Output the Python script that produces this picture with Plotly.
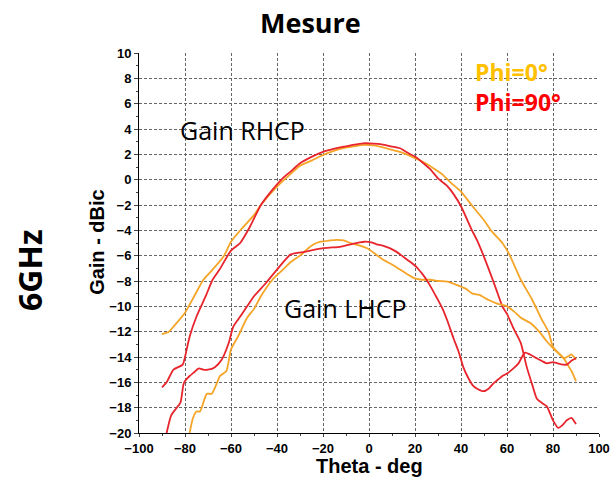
import plotly.graph_objects as go

# RHCP, phi = 0 deg (orange)
rhcp0_theta = [-90, -87, -85, -80, -76, -72, -68, -63, -60, -55, -50, -47, -40, -35, -30, -25,
               -20, -15, -11, -6, -2, 2, 6, 10, 15, 20, 25, 28, 32, 35, 40, 45, 50, 53, 58, 61,
               66, 71, 75, 78, 80, 83, 85, 87, 88, 90]
rhcp0_gain = [-12.2, -12.0, -11.6, -10.5, -9.2, -7.9, -7.1, -6.0, -4.9, -3.8, -2.8, -2.0, -0.55,
              0.3, 1.1, 1.5, 1.95, 2.3, 2.5, 2.65, 2.75, 2.7, 2.55, 2.35, 2.1, 1.7, 1.25, 0.9,
              0.4, -0.15, -0.95, -2.1, -3.2, -4.0, -5.0, -5.9, -7.9, -9.5, -11.0, -12.0, -13.2,
              -13.8, -14.2, -14.8, -15.1, -15.9]

# RHCP, phi = 90 deg (red)
rhcp90_theta = [-90, -88, -85, -81, -80, -78, -75, -71, -68, -65, -60, -56, -52, -47, -42, -37,
                -34, -30, -25, -20, -15, -11, -7, -2.5, 2, 5, 9, 13.5, 17, 20, 23, 26.5, 30, 34,
                37, 40, 44.5, 47, 50, 55, 58, 60, 63, 66, 68.6, 71, 73, 75, 77.3, 80, 82.3, 84,
                86, 88, 90]
rhcp90_gain = [-16.4, -16.0, -15.0, -14.6, -14.0, -12.4, -10.8, -9.2, -7.9, -7.1, -5.6, -5.0,
               -3.8, -2.0, -0.8, 0.2, 0.65, 1.3, 1.8, 2.2, 2.45, 2.6, 2.75, 2.87, 2.85, 2.8,
               2.65, 2.48, 2.1, 1.82, 1.4, 0.85, 0.1, -0.5, -1.2, -2.1, -3.9, -4.8, -6.1, -8.5,
               -10.0, -10.6, -11.8, -12.9, -14.8, -16.2, -17.3, -17.6, -17.9, -19.0, -19.6,
               -19.4, -19.0, -18.8, -19.3]

# LHCP, phi = 0 deg (orange)
lhcp0_theta = [-78, -76.5, -75, -73.5, -71.5, -70.5, -68.4, -66, -64.8, -62, -60, -57, -53, -50,
               -47, -42, -38, -34, -30, -27, -24, -21, -17, -14, -11, -8, -4, -1, 3, 6, 10, 13.5,
               17, 20, 23, 26.5, 30, 34, 38, 42, 45, 48, 52, 56, 60, 63, 66, 70, 74, 77, 80, 83,
               85, 87, 88, 90]
lhcp0_gain = [-20, -18.8, -18.3, -18.3, -17.3, -16.9, -16.9, -16.0, -15.5, -15.1, -13.4, -12.4,
              -10.9, -10.2, -9.2, -7.9, -7.2, -6.5, -6.0, -5.5, -5.1, -4.9, -4.8, -4.75, -4.8,
              -5.0, -5.2, -5.4, -5.9, -6.3, -6.7, -7.1, -7.5, -7.8, -7.9, -7.9, -8.0, -8.05,
              -8.3, -8.6, -9.0, -9.1, -9.5, -9.8, -10.0, -10.4, -10.9, -11.3, -12.0, -12.7,
              -13.3, -13.8, -14.1, -13.9, -13.8, -14.2]

# LHCP, phi = 90 deg (red)
lhcp90_theta = [-88, -86, -84, -82, -80.7, -80, -78, -76, -74, -72, -70, -67, -64, -61, -59, -56,
                -53, -50, -45, -40, -34, -28, -24, -20, -16, -12.6, -8, -4, -2, 1, 3.3, 6, 9, 12,
                15, 18, 20.7, 23, 25, 27, 29.4, 32, 34, 36.7, 39, 41, 43, 45.4, 47, 49.7, 52, 54,
                56, 58, 60, 62.8, 65, 67.8, 70, 72.9, 75, 77.3, 80, 82, 84.5, 86, 88, 90]
lhcp90_gain = [-20, -18.6, -18.1, -17.6, -16.2, -15.9, -15.5, -15.2, -14.9, -15.0, -15.0, -14.8,
               -14.2, -12.9, -11.6, -10.8, -10.0, -9.2, -8.2, -7.1, -5.9, -5.7, -5.55, -5.4,
               -5.35, -5.3, -5.1, -4.95, -4.9, -4.95, -5.1, -5.2, -5.4, -5.7, -6.1, -6.5, -6.9,
               -7.4, -7.9, -8.5, -9.3, -10.2, -11.1, -12.5, -13.6, -14.8, -15.6, -16.3, -16.5,
               -16.7, -16.5, -16.1, -15.8, -15.5, -15.3, -14.9, -14.5, -13.65, -13.8, -14.1,
               -14.3, -14.5, -14.4, -14.5, -14.6, -14.6, -14.3, -14.1]

x_ticks = [-100, -80, -60, -40, -20, 0, 20, 40, 60, 80, 100]
y_ticks = [10, 8, 6, 4, 2, 0, -2, -4, -6, -8, -10, -12, -14, -16, -18, -20]

orange = '#F5A426'
red = '#E8242C'

fig = go.Figure()
for xs, ys, col in [(rhcp0_theta, rhcp0_gain, orange), (rhcp90_theta, rhcp90_gain, red),
                    (lhcp0_theta, lhcp0_gain, orange), (lhcp90_theta, lhcp90_gain, red)]:
    fig.add_trace(go.Scatter(x=xs, y=ys, mode='lines', line=dict(color=col, width=1.8, shape='spline', smoothing=0.6),
                             showlegend=False, hoverinfo='skip'))

tick_font = dict(family='Liberation Sans', size=13, color='black', weight='bold')
fig.update_xaxes(range=[-100, 100], tickvals=x_ticks, showgrid=True, gridcolor='#666666', griddash='3px,2px',
                 gridwidth=1, showline=True, linecolor='black', linewidth=1, ticks='outside', ticklen=3,
                 minor=dict(ticks='outside', ticklen=2, dtick=10, showgrid=False),
                 zeroline=False, tickfont=tick_font, automargin=False, ticklabeloverflow='allow')
fig.update_yaxes(range=[-20, 10], tickvals=y_ticks, showgrid=True, gridcolor='#666666', griddash='3px,2px',
                 gridwidth=1, showline=True, linecolor='black', linewidth=1, ticks='outside', ticklen=4,
                 minor=dict(ticks='outside', ticklen=2, dtick=1, showgrid=False),
                 zeroline=False, tickfont=tick_font, automargin=False)

fig.add_annotation(text='Mesure', x=0.372, y=1.079, xref='paper', yref='paper', showarrow=False,
                   xanchor='center', yanchor='middle',
                   font=dict(family='Open Sans', size=27, color='black', weight='bold'))
fig.add_annotation(text='6GHz', x=-0.237, y=0.429, xref='paper', yref='paper', showarrow=False, textangle=-90,
                   xanchor='center', yanchor='middle',
                   font=dict(family='Open Sans', size=32, color='black', weight='bold'))
fig.add_annotation(text='Gain - dBic', x=-0.0913, y=0.503, xref='paper', yref='paper', showarrow=False,
                   textangle=-90, xanchor='center', yanchor='middle',
                   font=dict(family='Liberation Sans', size=20, color='black', weight='bold'))
fig.add_annotation(text='Theta - deg', x=0.5, y=-0.087, xref='paper', yref='paper', showarrow=False,
                   xanchor='center', yanchor='middle',
                   font=dict(family='Liberation Sans', size=20, color='black', weight='bold'))
fig.add_annotation(text='Gain RHCP', x=-55, y=3.9, showarrow=False, xanchor='center', yanchor='middle',
                   font=dict(family='Open Sans', size=25, color='black'))
fig.add_annotation(text='Gain LHCP', x=-10.4, y=-10.1, showarrow=False, xanchor='center', yanchor='middle',
                   font=dict(family='Open Sans', size=25, color='black'))
# phi labels as one two-line block
fig.add_annotation(text="<span style='color:#FFC000'>Phi=0°</span><br><span style='color:#FF0000'>Phi=90°</span>",
                   x=45.2, y=7.35, xanchor='left', yanchor='middle', align='left', showarrow=False,
                   font=dict(family='Open Sans', size=23, color='#FF0000', weight='bold'))

fig.update_layout(width=612, height=479, margin=dict(l=139, r=13, t=53, b=46, autoexpand=False),
                  plot_bgcolor='white', paper_bgcolor='white')
# drop the default body margin so the 612x479 figure fills the window exactly
fig.write_html("out.html", config={'displayModeBar': False},
               post_script="document.body.style.margin = '0';")
